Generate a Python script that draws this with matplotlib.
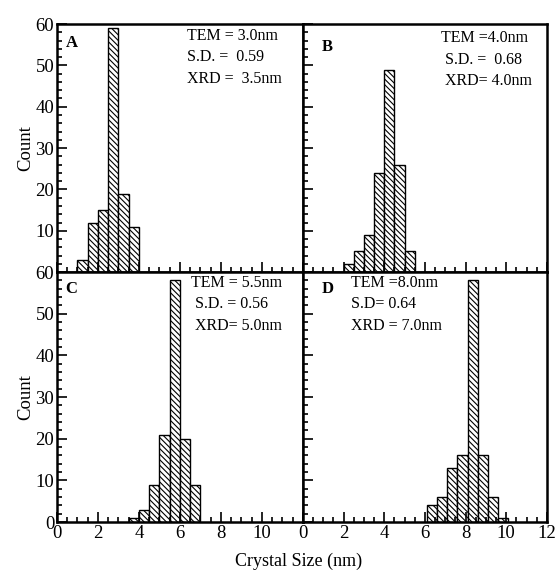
import numpy as np
import matplotlib
matplotlib.use("Agg")
from matplotlib import pyplot as plt
from matplotlib.ticker import MultipleLocator

plt.rcParams["font.family"] = ["Liberation Serif", "DejaVu Serif"]
plt.rcParams["hatch.linewidth"] = 0.8

# histogram data: left bin edges (nm) and counts, bin width 0.5 nm
edges_a = [1.0, 1.5, 2.0, 2.5, 3.0, 3.5]
counts_a = [3, 12, 15, 59, 19, 11]
edges_b = [2.0, 2.5, 3.0, 3.5, 4.0, 4.5, 5.0]
counts_b = [2, 5, 9, 24, 49, 26, 5]
edges_c = [3.5, 4.0, 4.5, 5.0, 5.5, 6.0, 6.5]
counts_c = [1, 3, 9, 21, 58, 20, 9]
edges_d = [6.1, 6.6, 7.1, 7.6, 8.1, 8.6, 9.1, 9.6]
counts_d = [4, 6, 13, 16, 58, 16, 6, 1]

labels = ["A", "B", "C", "D"]
notes = [
    ["TEM = 3.0nm", "S.D. =  0.59", "XRD =  3.5nm"],
    ["TEM =4.0nm", " S.D. =  0.68", " XRD= 4.0nm"],
    ["TEM = 5.5nm", " S.D. = 0.56", " XRD= 5.0nm"],
    ["TEM =8.0nm", "S.D= 0.64", "XRD = 7.0nm"],
]
note_x = [0.53, 0.565, 0.545, 0.195]
note_y = [0.985, 0.975, 0.99, 0.99]
label_pos = [(0.035, 0.955), (0.075, 0.94), (0.035, 0.965), (0.075, 0.965)]

fig = plt.figure(figsize=(5.58, 5.79), dpi=100)
L, M, R = 0.102, 0.543, 0.980
B, H, T = 0.0984, 0.530, 0.9585
boxes = [
    [L, H, M - L, T - H],
    [M, H, R - M, T - H],
    [L, B, M - L, H - B],
    [M, B, R - M, H - B],
]
data = [(edges_a, counts_a), (edges_b, counts_b), (edges_c, counts_c), (edges_d, counts_d)]

for i, (box, (edges, counts)) in enumerate(zip(boxes, data)):
    ax = fig.add_axes(box)
    ax.bar(edges, counts, width=0.5, align="edge", color="white",
           edgecolor="black", linewidth=1.0, hatch="\\\\\\\\\\\\")
    ax.set_xlim(0, 12)
    ax.set_ylim(0, 60)
    ax.xaxis.set_major_locator(MultipleLocator(2))
    ax.xaxis.set_minor_locator(MultipleLocator(0.5))
    ax.yaxis.set_major_locator(MultipleLocator(10))
    ax.yaxis.set_minor_locator(MultipleLocator(2))
    ax.tick_params(which="both", direction="in", top=False, right=False,
                   labelsize=13.5, width=1.2, pad=2)
    ax.tick_params(which="major", length=7)
    ax.tick_params(which="minor", length=3.5)
    for s in ax.spines.values():
        s.set_linewidth(1.8)
    if i in (1, 3):
        ax.set_yticklabels([])
    if i in (0, 1):
        ax.set_xticklabels([])
    if i == 0:
        ax.set_yticks([10, 20, 30, 40, 50, 60])
        ax.set_ylabel("Count", fontsize=13.5, labelpad=1)
    if i == 2:
        ax.set_xticks([0, 2, 4, 6, 8, 10])
        ax.set_ylabel("Count", fontsize=13.5, labelpad=1)
    ax.text(label_pos[i][0], label_pos[i][1], labels[i], transform=ax.transAxes,
            fontsize=12, fontweight="bold", va="top", ha="left")
    for j, line in enumerate(notes[i]):
        ax.text(note_x[i], note_y[i] - j * 0.087, line, transform=ax.transAxes,
                fontsize=11.5, va="top", ha="left")

fig.text(0.535, 0.03, "Crystal Size (nm)", ha="center", va="center", fontsize=13)

plt.savefig("out.png", dpi=100)
